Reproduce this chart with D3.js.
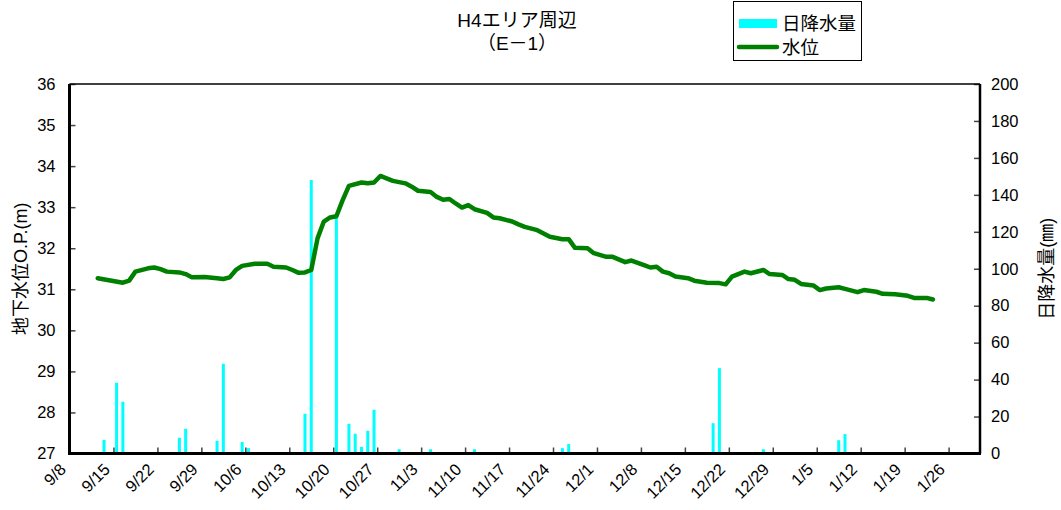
<!DOCTYPE html>
<html>
<head>
<meta charset="utf-8">
<script src="https://cdn.jsdelivr.net/npm/d3@7"></script>
<style>
  html, body { margin: 0; padding: 0; background: #fff; }
  svg { display: block; }
  text { font-family: "Liberation Sans", Arial, "Noto Sans CJK JP", sans-serif; fill: #000; }
</style>
</head>
<body>
<svg id="chart" width="1061" height="510"></svg>
<script>
// ---------- data ----------
const titleLines = ["H4エリア周辺", "（E－1）"];
const leftTicks = [27, 28, 29, 30, 31, 32, 33, 34, 35, 36];
const rightTicks = [0, 20, 40, 60, 80, 100, 120, 140, 160, 180, 200];
const xTickLabels = ["9/8","9/15","9/22","9/29","10/6","10/13","10/20","10/27","11/3","11/10","11/17","11/24","12/1","12/8","12/15","12/22","12/29","1/5","1/12","1/19","1/26"];

const rainDates = ["9/13","9/15","9/16","9/25","9/26","9/30","10/1","10/2","10/4","10/5","10/6","10/15","10/16","10/20","10/22","10/23","10/24","10/25","10/26","10/30","11/4","11/11","11/25","11/26","12/19","12/20","12/27","1/8","1/9"];
const rainValues = [7.4,38.3,28,8.5,13.4,0.5,6.9,48.6,0.5,6.2,2.9,21.5,148,127.6,16.1,10.7,3.6,12.3,23.7,2.3,2.3,2.3,2.9,5.1,16.4,46.2,2.3,7.2,10.5];

const levelDates = ["9/12","9/16","9/17","9/18","9/20","9/21","9/22","9/23","9/25","9/26","9/27","9/29","10/1","10/2","10/3","10/4","10/5","10/7","10/9","10/10","10/12","10/13","10/14","10/15","10/16","10/17","10/18","10/19","10/20","10/21","10/22","10/24","10/25","10/26","10/27","10/29","10/31","11/1","11/2","11/4","11/5","11/6","11/7","11/8","11/9","11/10","11/11","11/13","11/14","11/15","11/17","11/18","11/19","11/21","11/22","11/23","11/25","11/26","11/27","11/29","11/30","12/2","12/3","12/5","12/6","12/8","12/9","12/10","12/11","12/12","12/13","12/15","12/16","12/18","12/20","12/21","12/22","12/24","12/25","12/27","12/28","12/30","12/31","1/1","1/2","1/4","1/5","1/6","1/8","1/9","1/11","1/12","1/14","1/15","1/17","1/19","1/20","1/22","1/23"];
const levelValues = [31.27,31.16,31.21,31.43,31.51,31.53,31.49,31.43,31.41,31.37,31.29,31.30,31.27,31.25,31.29,31.47,31.57,31.62,31.62,31.55,31.53,31.47,31.40,31.41,31.47,32.24,32.65,32.75,32.78,33.17,33.52,33.60,33.58,33.60,33.76,33.64,33.58,33.50,33.40,33.37,33.25,33.18,33.20,33.09,32.99,33.05,32.95,32.86,32.75,32.73,32.65,32.58,32.52,32.44,32.36,32.28,32.22,32.22,32.01,32.00,31.88,31.79,31.79,31.66,31.70,31.59,31.53,31.55,31.43,31.39,31.31,31.27,31.21,31.16,31.15,31.12,31.31,31.43,31.39,31.47,31.37,31.35,31.25,31.23,31.13,31.09,30.98,31.02,31.05,31.01,30.93,30.98,30.94,30.89,30.88,30.84,30.79,30.79,30.75];

// ---------- helpers ----------
function toDate(md) {
  const [m, d] = md.split("/").map(Number);
  const y = m >= 7 ? 2010 : 2011;
  return new Date(Date.UTC(y, m - 1, d));
}
const DAY = 86400000;

// ---------- layout ----------
const svg = d3.select("#chart");
const L = 69.5, R = 980, T = 84, B = 453.5;

const x = d3.scaleUtc().domain([toDate("9/8"), toDate("1/31")]).range([L, R]);
const yL = d3.scaleLinear().domain([27, 36]).range([B, T]);
const yR = d3.scaleLinear().domain([0, 200]).range([B, T]);
const halfDay = (x(new Date(toDate("9/8").getTime() + DAY)) - x(toDate("9/8"))) / 2;
const cx = md => x(toDate(md)) + halfDay;

// bars
svg.append("g").selectAll("rect").data(rainDates.map((d, i) => ({d, v: rainValues[i]})))
  .join("rect")
  .attr("x", p => cx(p.d) - 1.5)
  .attr("width", 3)
  .attr("y", p => yR(p.v))
  .attr("height", p => B - yR(p.v))
  .attr("fill", "#00FFFF");

// line
const line = d3.line().x(p => cx(p.d)).y(p => yL(p.v));
svg.append("path")
  .datum(levelDates.map((d, i) => ({d, v: levelValues[i]})))
  .attr("d", line)
  .attr("fill", "none")
  .attr("stroke", "#008000")
  .attr("stroke-width", 4.5)
  .attr("stroke-linejoin", "round")
  .attr("stroke-linecap", "round");

// axes
const gL = svg.append("g").attr("transform", `translate(${L},0)`)
  .call(d3.axisLeft(yL).tickValues(leftTicks).tickSize(-6).tickPadding(14).tickFormat(d3.format("d")));
const gR = svg.append("g").attr("transform", `translate(${R},0)`)
  .call(d3.axisRight(yR).tickValues(rightTicks).tickSize(-6).tickPadding(11).tickFormat(d3.format("d")));
const xTicks = xTickLabels.map(toDate);
const gX = svg.append("g").attr("transform", `translate(0,${B})`)
  .call(d3.axisBottom(x).tickValues(xTicks).tickSize(-6).tickFormat(d => (d.getUTCMonth() + 1) + "/" + d.getUTCDate()));

[gL, gR, gX].forEach(g => {
  g.select(".domain").remove();
  g.selectAll(".tick line").attr("stroke", "#444").attr("stroke-width", 1.5);
  g.selectAll("text").style("font-size", "16.5px").attr("fill", "#000");
});
gX.selectAll("text")
  .attr("text-anchor", "end")
  .attr("dy", "0")
  .attr("y", 0)
  .attr("transform", "translate(-3,17) rotate(-45)");

// frame
svg.append("line").attr("x1", L).attr("x2", R).attr("y1", T).attr("y2", T).attr("stroke", "#000").attr("stroke-width", 1.5);
svg.append("line").attr("x1", R).attr("x2", R).attr("y1", T).attr("y2", B).attr("stroke", "#000").attr("stroke-width", 2.5);
svg.append("line").attr("x1", L).attr("x2", L).attr("y1", T).attr("y2", B + 1.5).attr("stroke", "#000").attr("stroke-width", 3);
svg.append("line").attr("x1", L - 1.5).attr("x2", R + 1).attr("y1", B).attr("y2", B).attr("stroke", "#000").attr("stroke-width", 3);

// axis titles
svg.append("text").attr("transform", `translate(27,${(T + B) / 2}) rotate(-90)`)
  .attr("text-anchor", "middle").style("font-size", "18px").text("地下水位O.P.(m)");
svg.append("text").attr("transform", `translate(1053,${(T + B) / 2}) rotate(-90)`)
  .attr("text-anchor", "middle").style("font-size", "18px").text("日降水量(㎜)");

// title
svg.append("text").attr("x", 517).attr("y", 27).attr("text-anchor", "middle").style("font-size", "19px").text(titleLines[0]);
svg.append("text").attr("x", 517).attr("y", 50).attr("text-anchor", "middle").style("font-size", "19px").text(titleLines[1]);

// legend
const lg = svg.append("g");
lg.append("rect").attr("x", 733.5).attr("y", 1.5).attr("width", 128).attr("height", 59)
  .attr("fill", "#fff").attr("stroke", "#000").attr("stroke-width", 1);
lg.append("rect").attr("x", 739).attr("y", 19).attr("width", 38).attr("height", 9).attr("fill", "#00FFFF");
lg.append("text").attr("x", 782).attr("y", 30).style("font-size", "18.5px").text("日降水量");
lg.append("line").attr("x1", 739).attr("x2", 777).attr("y1", 47).attr("y2", 47)
  .attr("stroke", "#008000").attr("stroke-width", 4.5).attr("stroke-linecap", "round");
lg.append("text").attr("x", 782).attr("y", 54).style("font-size", "18.5px").text("水位");
</script>
</body>
</html>
